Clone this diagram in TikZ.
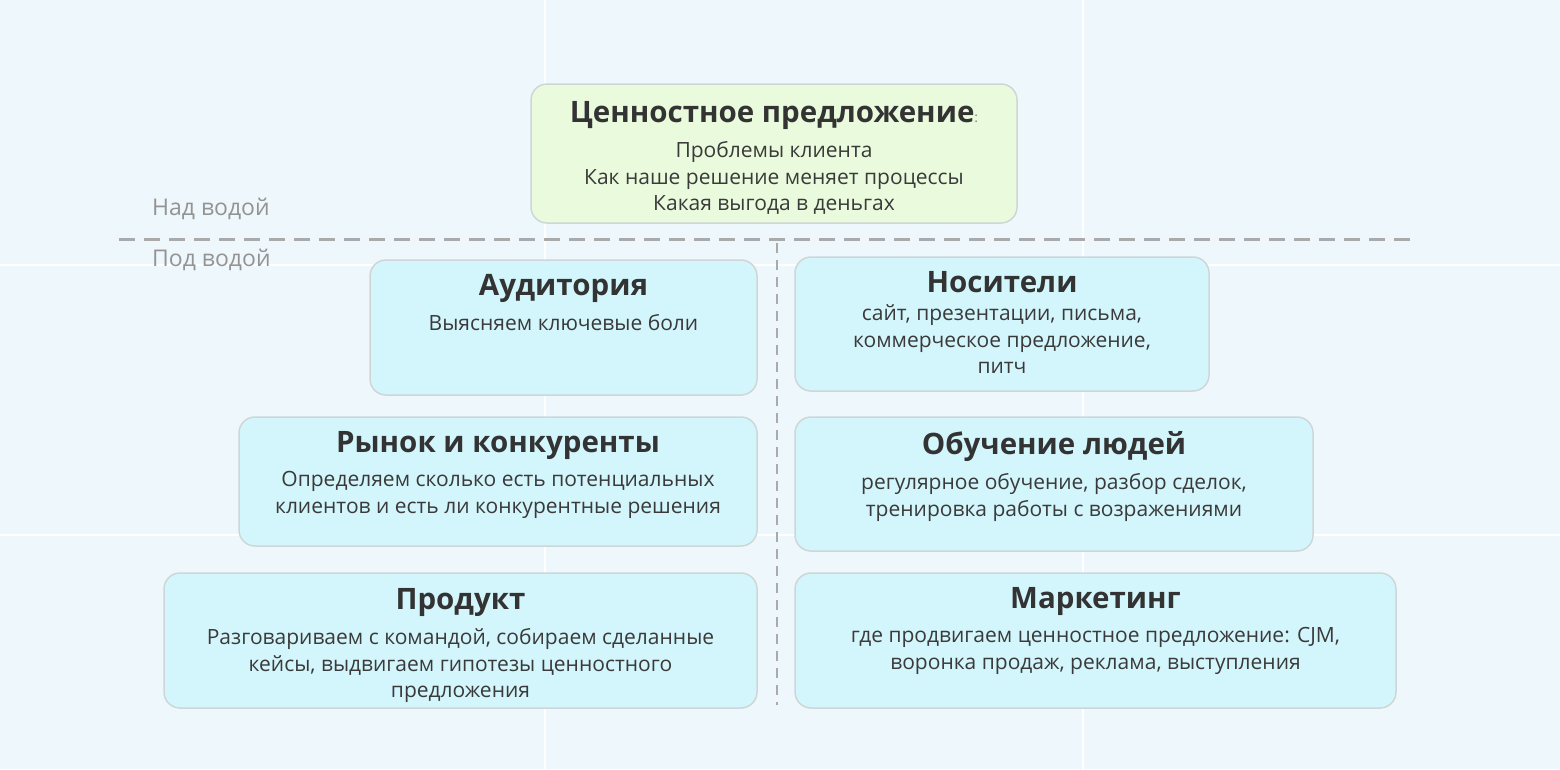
\documentclass[tikz,border=0pt]{standalone}
\usepackage{fontspec}
\setmainfont{Open Sans}
\usetikzlibrary{positioning}
\definecolor{bgblue}{HTML}{EEF8FC}
\definecolor{boxblue}{HTML}{D3F6FC}
\definecolor{boxgreen}{HTML}{EAFBDD}
\definecolor{boxline}{HTML}{CFD6D8}
\definecolor{dashgray}{HTML}{AAAAAA}
\definecolor{titlegray}{HTML}{333333}
\definecolor{textgray}{HTML}{3A3A3A}
\tikzset{
  box/.style={draw=boxline, line width=1.5pt, rounded corners=16pt, fill=boxblue},
  title/.style={anchor=north, font=\fontsize{29.5}{32}\selectfont\bfseries, text=titlegray, inner sep=0pt},
  body/.style={anchor=north, font=\fontsize{21}{26.5}\selectfont, text=textgray, align=center, inner sep=0pt},
  side/.style={anchor=west, font=\fontsize{23}{26}\selectfont, text=gray!85, inner sep=0pt},
  water/.style={dashgray, line width=3pt, dash pattern=on 16pt off 9pt}
}
\begin{document}
\begin{tikzpicture}[x=1pt, y=-1pt]
    \fill [bgblue] (0, 0) rectangle (1560, 769);
    \useasboundingbox (0, 0) rectangle (1560, 769);
    % background grid
    \foreach \x in {545, 1083}
        \draw [white, line width=2pt] (\x, 0) -- (\x, 769);
    \foreach \y in {265, 535}
        \draw [white, line width=2pt] (0, \y) -- (1560, \y);

    % boxes
    \draw [box, fill=boxgreen] (531, 84) rectangle (1017, 223);
    \coordinate (val) at (774, 101);
    \draw [box] (370, 260) rectangle (757, 395);
    \coordinate (aud) at (563.5, 274);
    \draw [box] (795, 257) rectangle (1209, 391);
    \coordinate (media) at (1002, 271);
    \draw [box] (239, 417) rectangle (757, 546);
    \coordinate (market) at (498, 431);
    \draw [box] (795, 417) rectangle (1313, 551);
    \coordinate (train) at (1054, 431);
    \draw [box] (164, 573) rectangle (757, 708);
    \coordinate (prod) at (460.5, 588);
    \draw [box] (795, 573) rectangle (1396, 708);
    \coordinate (mark) at (1095.5, 587);

    % waterline
    \draw [water] (119, 239) -- (1410, 239);
    \draw [water, line width=2pt, dash pattern=on 10pt off 7pt] (777, 243) -- (777, 705);
    \node [side] (above) at (152, 209) {Над водой};
    \node [side] (below) at (152, 260) {Под водой};

    % texts
    \node [title] (valT) at (val) {Ценностное предложение\textcolor{gray}{\fontsize{14}{16}\selectfont\mdseries:}};
    \node [body, below=12pt of valT] {Проблемы клиента\\Как наше решение меняет процессы\\Какая выгода в деньгах};
    \node [title] (audT) at (aud) {Аудитория};
    \node [body, below=12pt of audT] {Выясняем ключевые боли};
    \node [title] (mediaT) at (media) {Носители};
    \node [body, below=12pt of mediaT] {сайт, презентации, письма,\\коммерческое предложение,\\питч};
    \node [title] (marketT) at (market) {Рынок и конкуренты};
    \node [body, below=12pt of marketT] {Определяем сколько есть потенциальных\\клиентов и есть ли конкурентные решения};
    \node [title] (trainT) at (train) {Обучение людей};
    \node [body, below=12pt of trainT] {регулярное обучение, разбор сделок,\\тренировка работы с возражениями};
    \node [title] (prodT) at (prod) {Продукт};
    \node [body, below=12pt of prodT] {Разговариваем с командой, собираем сделанные\\кейсы, выдвигаем гипотезы ценностного\\предложения};
    \node [title] (markT) at (mark) {Маркетинг};
    \node [body, below=12pt of markT] {где продвигаем ценностное предложение: CJM,\\воронка продаж, реклама, выступления};
\end{tikzpicture}
\end{document}
